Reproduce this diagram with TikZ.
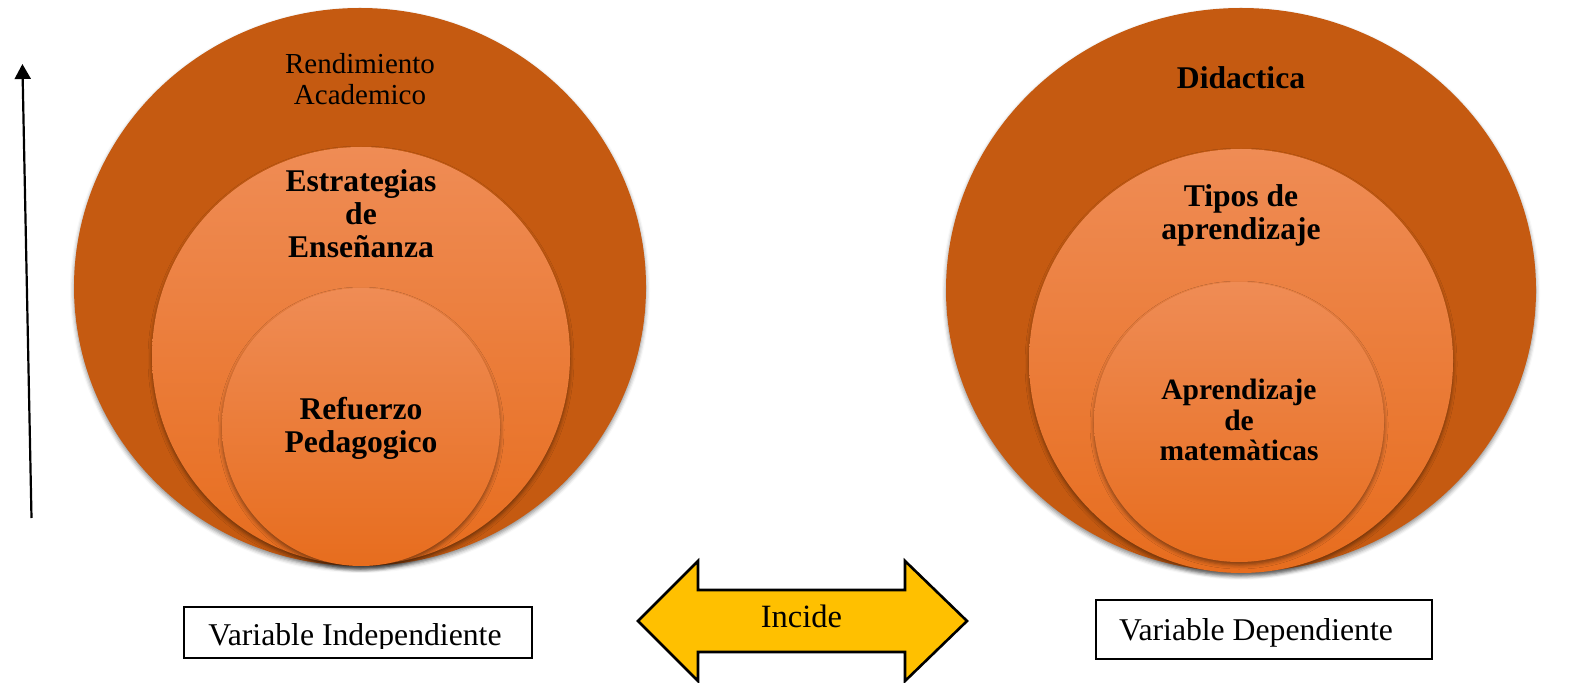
\documentclass[tikz,border=0pt]{standalone}
\usepackage{fontspec}
\setmainfont{Liberation Serif}
\usetikzlibrary{shapes.geometric,arrows.meta,shadows.blur}
\definecolor{outerc}{HTML}{C55A11}
\definecolor{midtop}{HTML}{EF8C55}
\definecolor{midmid}{HTML}{F3802F}
\definecolor{midbot}{HTML}{E76D1E}
\definecolor{arrowy}{HTML}{FFC000}
\begin{document}
\begin{tikzpicture}[x=0.5pt,y=-0.5pt,
  discshadow/.style={blur shadow={shadow xshift=0pt,shadow yshift=-1.5pt,shadow blur radius=2pt,shadow opacity=45}},
  outerdisc/.style={ellipse,inner sep=0pt,fill=outerc,discshadow},
  innerdisc/.style={ellipse,inner sep=0pt,top color=midtop,middle color=midmid,bottom color=midbot,discshadow},
  circtext/.style={font=\bfseries\fontsize{15.8}{16.5}\selectfont,align=center,inner sep=0pt},
  plaintext/.style={font=\fontsize{14.5}{15.75}\selectfont,align=center,inner sep=0pt},
  boxtext/.style={font=\fontsize{15.85}{17}\selectfont,inner sep=0pt,anchor=base},
  varbox/.style={draw=black,line width=0.6pt,fill=white,inner sep=0pt},
  dblarrow/.style={draw=black,fill=arrowy,line width=1.3pt,line join=miter},
  uparrow/.style={draw=black,line width=1.1pt,-{Triangle[length=7.5pt,width=8pt]}}
]
\useasboundingbox (0,0) rectangle (1594,683);

% left set of circles
\node[outerdisc,minimum width=286pt,minimum height=279pt] (lo) at (360,287) {};
\node[innerdisc,minimum width=209pt,minimum height=209pt] (lm) at (361,356) {};
\node[innerdisc,minimum width=139pt,minimum height=139pt] (li) at (361,427) {};
\node[plaintext] (lot) at (360,79) {Rendimiento\\Academico};
\node[circtext] (lmt) at (361,214) {Estrategias\\de\\Enseñanza};
\node[circtext] (lit) at (361,428) {Refuerzo\\Pedagogico};

% right set of circles
\node[outerdisc,minimum width=295pt,minimum height=282pt] (ro) at (1241,290) {};
\node[innerdisc,minimum width=212pt,minimum height=212pt] (rm) at (1241,361) {};
\node[innerdisc,minimum width=145pt,minimum height=140pt] (ri) at (1239,422) {};
\node[circtext] (rot) at (1241,78) {Didactica};
\node[circtext] (rmt) at (1241,215) {Tipos de\\aprendizaje};
\node[circtext,font=\bfseries\fontsize{14.75}{15.25}\selectfont] (rit) at (1239,420) {Aprendizaje\\de\\matemàticas};

% vertical arrow
\coordinate (arrbot) at (31.5,518);
\coordinate (arrtop) at (22.4,64);
\draw[uparrow] (arrbot) -- (arrtop);

% variable boxes
\node[varbox,minimum width=174pt,minimum height=25.5pt] (vi) at (358,632.5) {};
\begin{scope}
  \clip (184,607) rectangle (532,648);
  \node[boxtext] (vit) at (355,645) {Variable Independiente};
\end{scope}
\node[varbox,minimum width=168pt,minimum height=29.5pt] (vd) at (1264,629.5) {};
\node[boxtext] (vdt) at (1256,640) {Variable Dependiente};

% double arrow
\path[dblarrow] (638,621) -- (698,561) -- (698,590) -- (905,590) -- (905,561)
  -- (967,621) -- (905,681) -- (905,652) -- (698,652) -- (698,681) -- cycle;
\node[boxtext,font=\fontsize{16.25}{17}\selectfont] (inc) at (801.5,627) {Incide};
\end{tikzpicture}
\end{document}
